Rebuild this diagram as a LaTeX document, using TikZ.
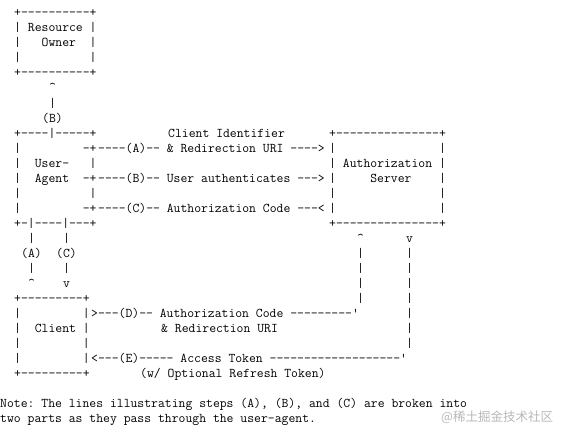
\documentclass[tikz,border=0pt]{standalone}
\usepackage{fontspec}
\newfontfamily\cjkfont{Noto Sans CJK SC}
\usepackage{tikz}

\begin{document}
\begin{tikzpicture}[x=7pt, y=-15pt, ascii/.style = {anchor=base west, inner sep=0pt, font=\ttfamily\fontsize{13.33}{15}\selectfont}, stamp/.style = {anchor=west, inner sep=0pt, text=black!28, font=\cjkfont\fontsize{12.5}{12.5}\selectfont}]
    \useasboundingbox (0,0) rectangle (80.1429,29.0667);
    \begin{scope}[yshift=-17pt]
        \node[ascii] (RO0) at (2,0) {+----------+};
        \node[ascii] (RO1) at (2,1) {|~Resource~|};
        \node[ascii] (RO2) at (2,2) {|~~~Owner~~|};
        \node[ascii] (RO3) at (2,3) {|~~~~~~~~~~|};
        \node[ascii] (RO4) at (2,4) {+----------+};

        \node[ascii] (Bup) at (7,5) {\textasciicircum};
        \node[ascii] (Bbar) at (7,6) {|};
        \node[ascii] (Blab) at (6,7) {(B)};

        \node[ascii] (UA0) at (2,8) {+----|-----+};
        \node[ascii] (UA1) at (2,9) {|~~~~~~~~~-+};
        \node[ascii] (UA2) at (2,10) {|~~User-~~~|};
        \node[ascii] (UA3) at (2,11) {|~~Agent~~-+};
        \node[ascii] (UA4) at (2,12) {|~~~~~~~~~~|};
        \node[ascii] (UA5) at (2,13) {|~~~~~~~~~-+};
        \node[ascii] (UA6) at (2,14) {+-|----|---+};

        \node[ascii] (AS0) at (47,8) {+---------------+};
        \node[ascii] (AS1) at (47,9) {|~~~~~~~~~~~~~~~|};
        \node[ascii] (AS2) at (47,10) {|~Authorization~|};
        \node[ascii] (AS3) at (47,11) {|~~~~~Server~~~~|};
        \node[ascii] (AS4) at (47,12) {|~~~~~~~~~~~~~~~|};
        \node[ascii] (AS5) at (47,13) {|~~~~~~~~~~~~~~~|};
        \node[ascii] (AS6) at (47,14) {+---------------+};

        \node[ascii] (Aid) at (24,8) {Client Identifier};
        \node[ascii] (Aflow) at (14,9) {----(A)--~\&~Redirection~URI~---->};
        \node[ascii] (Bflow) at (14,11) {----(B)--~User~authenticates~--->};
        \node[ascii] (Cflow) at (14,13) {----(C)--~Authorization~Code~---<};

        \node[ascii] (Abar1) at (4,15) {|};
        \node[ascii] (Cbar1) at (9,15) {|};
        \node[ascii] (Alab) at (3,16) {(A)};
        \node[ascii] (Clab) at (8,16) {(C)};
        \node[ascii] (Abar2) at (4,17) {|};
        \node[ascii] (Cbar2) at (9,17) {|};
        \node[ascii] (Aup) at (4,18) {\textasciicircum};
        \node[ascii] (Cdown) at (9,18) {v};

        \node[ascii] (Dup) at (51,15) {\textasciicircum};
        \foreach \r in {16,...,19}
            \node[ascii] (Dbar\r) at (51,\r) {|};
        \node[ascii] (Edown) at (58,15) {v};
        \foreach \r in {16,...,22}
            \node[ascii] (Ebar\r) at (58,\r) {|};

        \node[ascii] (CL0) at (2,19) {+---------+};
        \node[ascii] (CL1) at (2,20) {|~~~~~~~~~|};
        \node[ascii] (CL2) at (2,21) {|~~Client~|};
        \node[ascii] (CL3) at (2,22) {|~~~~~~~~~|};
        \node[ascii] (CL4) at (2,23) {|~~~~~~~~~|};
        \node[ascii] (CL5) at (2,24) {+---------+};

        \node[ascii] (Dflow) at (13,20) {>---(D)--~Authorization~Code~---------'};
        \node[ascii] (Duri) at (23,21) {\&~Redirection~URI};
        \node[ascii] (Eflow) at (13,23) {<---(E)-----~Access~Token~-------------------'};
        \node[ascii] (Erefresh) at (20,24) {(w/~Optional~Refresh~Token)};

        \node[ascii] (note1) at (0,26) {Note:~The~lines~illustrating~steps~(A),~(B),~and~(C)~are~broken~into};
        \node[ascii] (note2) at (0,27) {two~parts~as~they~pass~through~the~user-agent.};
    \end{scope}
    \node[stamp] (wm) at (63.0,27.8) {@稀土掘金技术社区};
\end{tikzpicture}
\end{document}
